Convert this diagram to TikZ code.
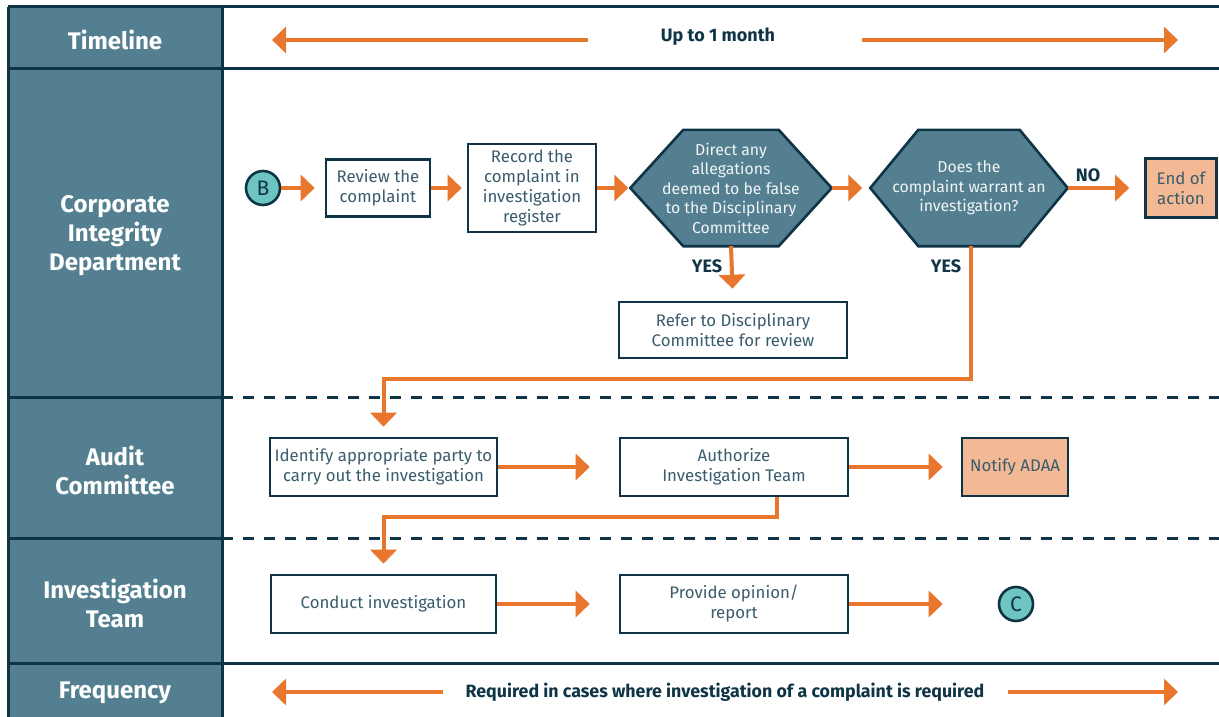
\documentclass[tikz,border=0pt]{standalone}
\usepackage{fontspec}
\setmainfont{Fira Sans}
\usetikzlibrary{arrows.meta,backgrounds,calc}
\definecolor{dark}{HTML}{0E3446}
\definecolor{lanefill}{HTML}{537F90}
\definecolor{orng}{HTML}{E8762C}
\definecolor{peach}{HTML}{F2B994}
\definecolor{teal}{HTML}{6EC4C0}
\definecolor{boxtext}{HTML}{3A5C6C}
\begin{document}
\begin{tikzpicture}[x=1pt,y=-1pt,
  lane/.style={text=white, align=center, font=\fontsize{24}{29}\selectfont\bfseries},
  box/.style={draw=dark, line width=2.6pt, fill=white, text=boxtext, align=center, inner sep=0pt, font=\fontsize{16.8}{20}\selectfont},
  endbox/.style={box, fill=peach},
  hexnode/.style={inner sep=0pt, align=center, text=white!92!lanefill, font=\fontsize{15.8}{19.5}\selectfont},
  hexshape/.style={draw=dark, line width=2.6pt, fill=lanefill, line join=miter},
  conn/.style={circle, draw=dark, line width=2.6pt, fill=teal, minimum size=34pt, inner sep=0pt, text=dark, font=\fontsize{21}{21}\selectfont},
  arr/.style={draw=orng, line width=4pt, -{Triangle[length=14pt,width=26pt]}},
  lbl/.style={text=dark, font=\fontsize{18}{20}\selectfont\bfseries},
  frameline/.style={draw=dark, line width=3pt},
  dashline/.style={draw=dark, line width=3pt, dash pattern=on 11pt off 10pt}
]
\useasboundingbox (0,0) rectangle (1219,717);
% frame
\fill[lanefill] (8,7) rectangle (222,717);
\draw[frameline] (8,7) -- (1219,7);
\draw[frameline] (8,69) -- (1219,69);
\draw[frameline] (8,397) -- (222,397);
\draw[frameline] (8,538) -- (222,538);
\draw[frameline] (8,663) -- (1219,663);
\draw[dashline] (222,397) -- (1219,397);
\draw[dashline] (222,538) -- (1219,538);
\draw[frameline] (8,7) -- (8,717);
\draw[frameline] (222,7) -- (222,717);
% lane labels
\node[lane] (ltime) at (115,40) {Timeline};
\node[lane] (lcid) at (115,236) {Corporate\\Integrity\\Department};
\node[lane] (laudit) at (115,470) {Audit\\Committee};
\node[lane] (linv) at (115,603) {Investigation\\Team};
\node[lane] (lfreq) at (115,693) {Frequency};
% timeline
\node[lbl] (uptext) at (718,37) {Up to 1 month};
\coordinate (t1a) at (588,40); \coordinate (t1b) at (272,40);
\coordinate (t2a) at (862,40); \coordinate (t2b) at (1178,40);
\draw[arr] (t1a) -- (t1b);
\draw[arr] (t2a) -- (t2b);
% frequency
\node[lbl, font=\fontsize{17.8}{20}\selectfont\bfseries] (freqtext) at (725,692) {Required in cases where investigation of a complaint is required};
\coordinate (f1a) at (443,692); \coordinate (f1b) at (272,692);
\coordinate (f2a) at (1008,692); \coordinate (f2b) at (1178,692);
\draw[arr] (f1a) -- (f1b);
\draw[arr] (f2a) -- (f2b);
% CID lane
\node[conn] (B) at (263,188) {B};
\node[box, minimum width=104pt, minimum height=57pt] (review) at (378,188) {Review the\\complaint};
\node[box, minimum width=128pt, minimum height=88pt] (record) at (532,188) {Record the\\complaint in\\investigation\\register};
\node[hexnode, minimum width=201pt, minimum height=116pt] (h1) at (731,188) {Direct any\\allegations\\deemed to be false\\to the Disciplinary\\Committee};
\node[hexnode, minimum width=197pt, minimum height=116pt] (h2) at (969,188) {Does the\\complaint warrant an\\investigation?};
\begin{pgfonlayer}{background}
\draw[hexshape] (h1.west) -- ([xshift=53pt]h1.north west) -- ([xshift=-53pt]h1.north east) -- (h1.east) -- ([xshift=-53pt]h1.south east) -- ([xshift=53pt]h1.south west) -- cycle;
\draw[hexshape] (h2.west) -- ([xshift=48pt]h2.north west) -- ([xshift=-48pt]h2.north east) -- (h2.east) -- ([xshift=-48pt]h2.south east) -- ([xshift=48pt]h2.south west) -- cycle;
\end{pgfonlayer}
\node[endbox, minimum width=71pt, minimum height=59pt] (endact) at (1181,188) {End of\\action};
\node[box, minimum width=228pt, minimum height=56pt] (refer) at (733,330) {Refer to Disciplinary\\Committee for review};
\node[lbl] (yes1) at (707,266) {YES};
\node[lbl] (yes2) at (946,266) {YES};
\node[lbl] (no) at (1088,175) {NO};
% Audit lane
\node[box, minimum width=227pt, minimum height=58pt] (identify) at (383.5,467) {Identify appropriate party to\\carry out the investigation};
\node[box, minimum width=228pt, minimum height=58pt] (authorize) at (734,467) {Authorize\\Investigation Team};
\node[endbox, minimum width=106pt, minimum height=58pt] (notify) at (1015,467) {Notify ADAA};
% Investigation lane
\node[box, minimum width=225pt, minimum height=58pt] (conduct) at (383.5,604) {Conduct investigation};
\node[box, minimum width=228pt, minimum height=58pt] (provide) at (734,604) {Provide opinion/\\report};
\node[conn] (C) at (1016,604) {C};
% connectors
\draw[arr, shorten >=10pt] (B) -- (review);
\draw[arr, shorten >=5pt] (review) -- (record);
\draw[arr, shorten >=2pt] (record) -- (h1);
\draw[arr, shorten >=8pt] (h1) -- (h2);
\draw[arr, shorten >=15pt] (h2) -- (endact);
\draw[arr, shorten >=12pt] (h1.south) -- (refer.north);
\coordinate (j1) at (383.5,379);
\draw[arr, shorten >=10pt] ([xshift=2pt]h2.south) |- (j1) -- (identify.north);
\draw[arr, shorten >=29pt] (identify) -- (authorize);
\draw[arr, shorten >=18pt] (authorize) -- (notify);
\coordinate (j2) at (383.5,517);
\draw[arr, shorten >=10pt] ([xshift=43pt]authorize.south) |- (j2) -- (conduct.north);
\draw[arr, shorten >=29pt] (conduct) -- (provide);
\draw[arr, shorten >=55pt] (provide) -- (C);
\end{tikzpicture}
\end{document}
